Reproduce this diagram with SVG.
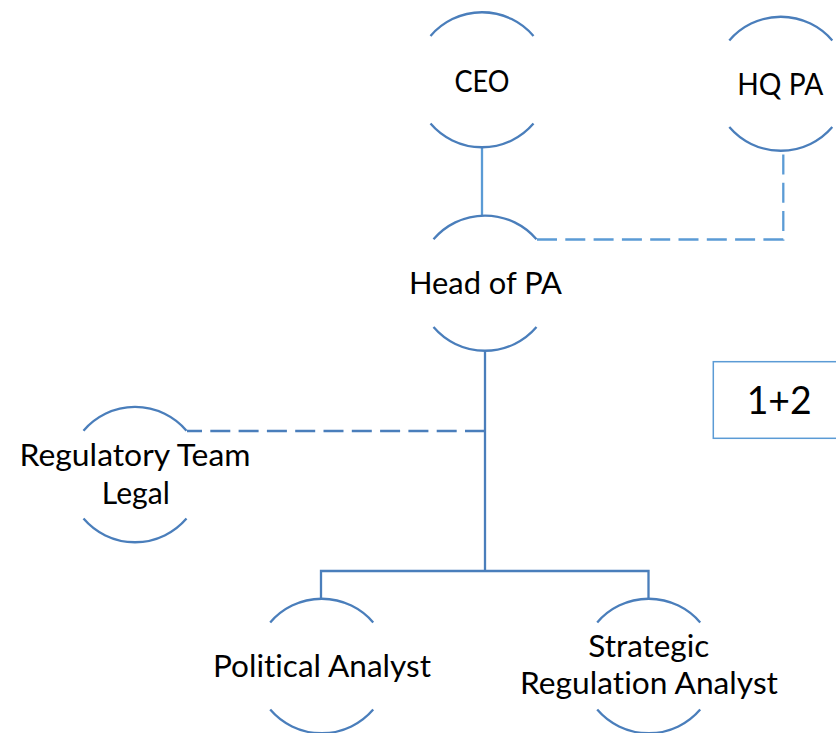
<svg xmlns="http://www.w3.org/2000/svg" width="836" height="733" viewBox="0 0 836 733">
  <style>
    .arc { fill: none; stroke: #4a7ebb; stroke-width: 2.3; }
    .link { fill: none; stroke: #4a7ebb; stroke-width: 2.3; }
    .link.light { stroke: #5b9bd5; }
    .dash { stroke-dasharray: 20 8.3; }
    .label { font-family: Lato, "Liberation Sans", Arial, sans-serif; font-size: 30px; fill: #000; text-anchor: middle; font-variant-ligatures: none; font-feature-settings: "liga" 0, "dlig" 0; }
    .box { fill: #fff; stroke: #5b9bd5; stroke-width: 1.5; }
  </style>
  <rect width="836" height="733" fill="#fff"/>

  <!-- connectors -->
  <g id="connectors">
    <path class="link light" d="M482,147 V215"/>
    <path class="link light dash" d="M537,239.5 H783.3 V152"/>
    <path class="link" d="M485,351.7 V571"/>
    <path class="link" d="M321,598.3 V571 H648.5 V598.3"/>
    <path class="link dash" d="M485,431 H187"/>
  </g>

  <!-- nodes: top and bottom arcs of a circle, label in between -->
  <g id="ceo">
    <path class="arc" d="M430.5,36 A67.7,67.7 0 0 1 533.5,36"/>
    <path class="arc" d="M430.5,123.5 A67.7,67.7 0 0 0 533.5,123.5"/>
    <text class="label" x="482" y="91.7" textLength="55" lengthAdjust="spacingAndGlyphs">CEO</text>
  </g>

  <g id="hq-pa">
    <path class="arc" d="M729.3,40.5 A67.7,67.7 0 0 1 832.3,40.5"/>
    <path class="arc" d="M729.3,127 A67.7,67.7 0 0 0 832.3,127"/>
    <text class="label" x="780.3" y="95" textLength="86" lengthAdjust="spacingAndGlyphs">HQ PA</text>
  </g>

  <g id="head-of-pa">
    <path class="arc" d="M433.5,239.3 A67.7,67.7 0 0 1 536.5,239.3"/>
    <path class="arc" d="M433.5,327 A67.7,67.7 0 0 0 536.5,327"/>
    <text class="label" x="485.5" y="294.3" textLength="153" lengthAdjust="spacingAndGlyphs">Head of PA</text>
  </g>

  <g id="regulatory-team-legal">
    <path class="arc" d="M83.5,430.7 A67.7,67.7 0 0 1 186.5,430.7"/>
    <path class="arc" d="M83.5,518.5 A67.7,67.7 0 0 0 186.5,518.5"/>
    <text class="label" x="135" y="465.7" textLength="231" lengthAdjust="spacingAndGlyphs">Regulatory Team</text>
    <text class="label" x="135.8" y="504" textLength="68" lengthAdjust="spacingAndGlyphs">Legal</text>
  </g>

  <g id="political-analyst">
    <path class="arc" d="M270.2,622.5 A67.7,67.7 0 0 1 373.2,622.5"/>
    <path class="arc" d="M270.2,709.5 A67.7,67.7 0 0 0 373.2,709.5"/>
    <text class="label" x="322" y="676.7" textLength="218" lengthAdjust="spacingAndGlyphs">Political Analyst</text>
  </g>

  <g id="strategic-regulation-analyst">
    <path class="arc" d="M597.2,622.5 A67.7,67.7 0 0 1 700.2,622.5"/>
    <path class="arc" d="M597.2,709.5 A67.7,67.7 0 0 0 700.2,709.5"/>
    <text class="label" x="648.8" y="656.7" textLength="121" lengthAdjust="spacingAndGlyphs">Strategic</text>
    <text class="label" x="649" y="694" textLength="258" lengthAdjust="spacingAndGlyphs">Regulation Analyst</text>
  </g>

  <g id="count-box">
    <rect class="box" x="713.3" y="361.7" width="140" height="76.6"/>
    <text class="label" x="779.2" y="414.3" style="font-size:38px" textLength="65" lengthAdjust="spacingAndGlyphs">1+2</text>
  </g>
</svg>
